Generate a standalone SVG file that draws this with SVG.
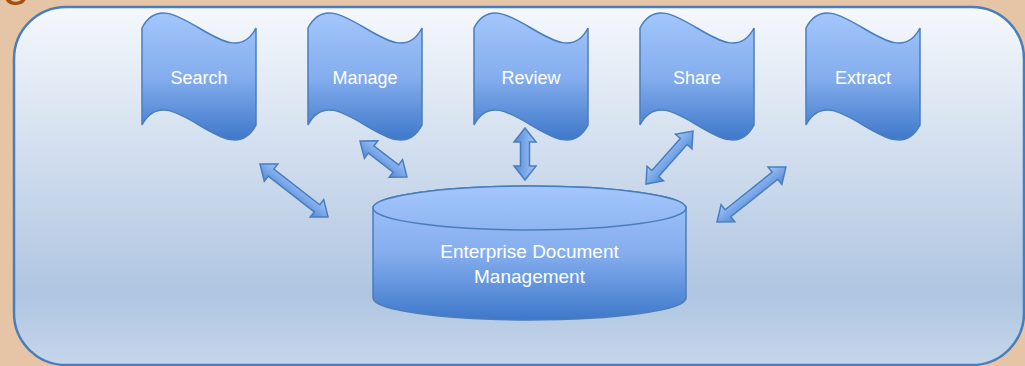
<svg xmlns="http://www.w3.org/2000/svg" xmlns:xlink="http://www.w3.org/1999/xlink" width="1025" height="366" viewBox="0 0 1025 366">
<style>
.lbl{font-family:"Liberation Sans","DejaVu Sans",sans-serif;fill:#ffffff;text-anchor:middle;}
.tape{fill:url(#gShape);stroke:#4A7EBB;stroke-width:1.5;}
.arr{fill:url(#gArrow);stroke:#4A7EBB;stroke-width:1.5;stroke-linejoin:miter;}
</style>
<defs>
<linearGradient id="gBox" x1="0" y1="0" x2="0" y2="1">
<stop offset="0" stop-color="#F5F8FC"/>
<stop offset="0.8" stop-color="#AFC5E1"/>
<stop offset="1" stop-color="#C6D6EB"/>
</linearGradient>
<linearGradient id="gShape" x1="0" y1="0" x2="0" y2="1">
<stop offset="0" stop-color="#A3C6FC"/>
<stop offset="0.5" stop-color="#85AEEE"/>
<stop offset="1" stop-color="#3E78CA"/>
</linearGradient>
<linearGradient id="gArrow" x1="0" y1="0" x2="0" y2="1">
<stop offset="0" stop-color="#A3C6FC"/>
<stop offset="1" stop-color="#5289D6"/>
</linearGradient>
<linearGradient id="gTop" x1="0" y1="0" x2="0" y2="1">
<stop offset="0" stop-color="#A3C6FC"/>
<stop offset="1" stop-color="#8FB6F2"/>
</linearGradient>
<path id="tapeShape" d="M0,15 C27,-37 87,67 114,15 L114,112 C87,164 27,60 0,112 Z"/>
</defs>
<rect x="0" y="0" width="1025" height="366" fill="#E5C5A5"/>
<text x="-22" y="5" font-family="Liberation Sans, DejaVu Sans, sans-serif" font-size="48" fill="#A0500F">ce</text>
<rect id="container" x="14" y="7" width="1010" height="358" rx="52" ry="52" fill="url(#gBox)" stroke="#4A7EBB" stroke-width="2.5"/>

<g id="search">
<use xlink:href="#tapeShape" href="#tapeShape" class="tape" transform="translate(142,13)"/>
<text class="lbl" x="199" y="84" font-size="18">Search</text>
</g>
<g id="manage">
<use xlink:href="#tapeShape" href="#tapeShape" class="tape" transform="translate(308,13)"/>
<text class="lbl" x="365" y="84" font-size="18">Manage</text>
</g>
<g id="review">
<use xlink:href="#tapeShape" href="#tapeShape" class="tape" transform="translate(474,13)"/>
<text class="lbl" x="531" y="84" font-size="18">Review</text>
</g>
<g id="share">
<use xlink:href="#tapeShape" href="#tapeShape" class="tape" transform="translate(640,13)"/>
<text class="lbl" x="697" y="84" font-size="18">Share</text>
</g>
<g id="extract">
<use xlink:href="#tapeShape" href="#tapeShape" class="tape" transform="translate(806,13)"/>
<text class="lbl" x="863" y="84" font-size="18">Extract</text>
</g>

<g id="connectors">
<path class="arr" transform="translate(260,164) rotate(37.9)" d="M0,0 L14,-11 L14,-4.5 L72.2,-4.5 L72.2,-11 L86.2,0 L72.2,11 L72.2,4.5 L14,4.5 L14,11 Z"/>
<path class="arr" transform="translate(360,141) rotate(37.5)" d="M0,0 L14,-11 L14,-4.5 L45.2,-4.5 L45.2,-11 L59.2,0 L45.2,11 L45.2,4.5 L14,4.5 L14,11 Z"/>
<path class="arr" transform="translate(525,128) rotate(90)" d="M0,0 L14,-11 L14,-4.5 L38,-4.5 L38,-11 L52,0 L38,11 L38,4.5 L14,4.5 L14,11 Z"/>
<path class="arr" transform="translate(646,184) rotate(-48.4)" d="M0,0 L14,-11 L14,-4.5 L56.8,-4.5 L56.8,-11 L70.8,0 L56.8,11 L56.8,4.5 L14,4.5 L14,11 Z"/>
<path class="arr" transform="translate(717,222) rotate(-38.6)" d="M0,0 L14,-11 L14,-4.5 L74.2,-4.5 L74.2,-11 L88.2,0 L74.2,11 L74.2,4.5 L14,4.5 L14,11 Z"/>
</g>

<g id="edm">
<path d="M373,208 A156.5,22 0 0 1 686,208 L686,298 A156.5,22 0 0 1 373,298 Z" fill="url(#gShape)" stroke="#4A7EBB" stroke-width="1.5"/>
<ellipse cx="529.5" cy="208" rx="156.5" ry="22" fill="url(#gTop)" stroke="#4A7EBB" stroke-width="1.5"/>
<text class="lbl" x="529.5" y="258" font-size="19">Enterprise Document</text>
<text class="lbl" x="529.5" y="283" font-size="19">Management</text>
</g>
</svg>
